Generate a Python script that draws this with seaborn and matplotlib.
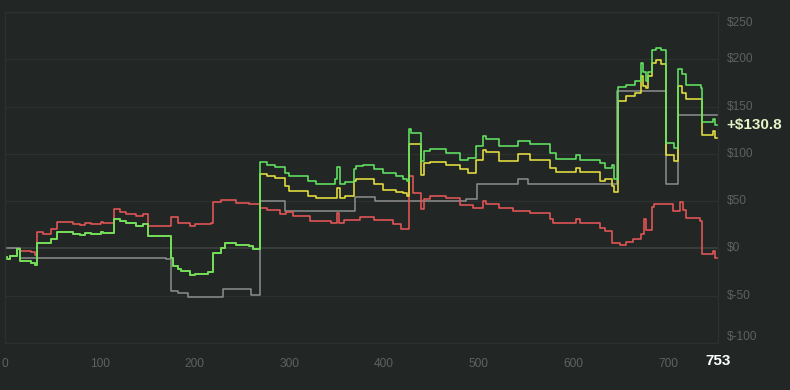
import pandas as pd
import matplotlib
matplotlib.use("Agg")
import matplotlib.pyplot as plt
import seaborn as sns

# breakpoints (hand #, $), drawn as steps
early = [(0, -9), (2, -11.6), (4.75, -8.5), (12, -1)]

green = early + [
    (16, -13), (27.6, -15), (31, -17.5), (34, 5.5), (48.8, 9.5), (55, 17.3),
    (71.6, 15.5), (78.7, 14.4), (84, 16.6), (91, 15.5), (101.6, 17.6), (103.3, 16),
    (115, 31), (121, 28.5), (128, 27), (138.5, 24), (145.5, 26), (151, 13),
    (175.5, -10), (177, -18.7), (182, -21.5), (186, -24), (194.8, -28.6), (200, -26.8),
    (214, -24.7), (219, -4.6), (228, 0.7), (231.7, 6), (244, 3.5), (258, 2.5),
    (262, -1), (269.5, 91.5), (276, 88.7), (284.7, 86.3), (295, 80), (300, 76.4),
    (320, 71), (328.7, 68.3), (348, 73), (350, 86), (354, 67.6), (358.7, 70),
    (368, 83.5), (371, 87), (378, 88.7), (390, 83.5), (399, 80), (413, 77),
    (420, 73), (424, 71), (426, 126.4), (429, 122), (439.6, 92), (442, 102.8),
    (448.4, 105), (466, 101), (480, 94), (489, 95.8), (497, 108.8), (505, 118.7),
    (508, 115.8), (522, 108), (541.7, 113.4), (554, 110), (575, 100.4), (582, 94.7),
    (603.4, 99), (607, 94), (628, 90.5), (634, 85.2), (641, 87.7), (643, 73.6),
    (647.5, 170.8), (656, 173), (665, 176.8), (672, 196), (674, 187), (677, 177),
    (679, 187), (683, 210), (688, 212), (693, 209.5), (698.4, 111), (707, 106),
    (710.7, 190), (715, 184), (719, 173), (735, 170), (736.4, 134), (748, 137),
    (750, 131), (753, 130.8),
]

yellow = early + [
    (16, -13), (27.6, -15), (31, -17.5), (34, 5.5), (48.8, 9.5), (55, 17.3),
    (71.6, 15.5), (78.7, 14.4), (84, 16.6), (91, 15.5), (101.6, 17.6), (103.3, 16),
    (115, 31), (121, 28.5), (128, 27), (138.5, 24), (145.5, 26), (151, 13),
    (175.5, -10), (177, -18.7), (182, -21.5), (186, -24), (194.8, -28.6), (200, -26.8),
    (214, -24.7), (219, -4.6), (228, 0.7), (231.7, 6), (244, 3.5), (258, 2.5),
    (262, -1), (269.5, 79), (276, 76.4), (284.7, 74), (295, 65.8), (300, 60.6),
    (320, 55.3), (328.7, 53.5), (350, 64), (354, 52.8), (358.7, 55.3), (368, 71),
    (371, 73.6), (390, 67.6), (399, 62.3), (413, 59.5), (420, 58.8), (424, 55.3),
    (426, 110), (439.6, 78), (442, 90.5), (448.4, 91), (466, 88.7), (480, 83.5),
    (489, 80), (497, 94), (505, 104.6), (508, 101.8), (522, 92), (541.7, 100),
    (554, 94), (575, 85.2), (582, 80.6), (603.4, 85.2), (607, 80.6), (628, 71),
    (634, 73), (641, 65.8), (643, 59.5), (647.5, 155.6), (656, 161), (665, 164.4),
    (672, 182.7), (674, 171.5), (677, 170), (679, 182), (683, 196), (688, 199),
    (693, 195.4), (698.4, 99.3), (707, 92.3), (710.7, 172), (715, 164.4), (719, 158.5),
    (736.4, 120.4), (748, 124), (750, 117), (753, 117),
]

red = early + [
    (16, -2.5), (27.6, -3.9), (31, -6.7), (34, 17), (40, 15.5), (48.8, 20.8),
    (55, 27.8), (71.6, 26), (78.7, 25), (84, 27), (91, 25.8), (101.6, 28),
    (103.3, 26.5), (115, 42), (121, 39), (128, 36.6), (138.5, 34), (145.5, 36),
    (151, 23.3), (174.8, 33), (182, 26.5), (194.8, 23.6), (200, 25.4), (217.7, 26.5),
    (219.5, 49), (228, 50.7), (244, 48.2), (258, 46.5), (269, 43), (276, 40.5),
    (290, 36.6), (297, 38.4), (304, 34), (322, 29), (344.6, 26.4), (350, 37),
    (352.5, 26.4), (358, 30), (374.4, 33), (390, 30), (410, 25.4), (418.6, 21),
    (426, 76.4), (430.8, 58.8), (439.6, 42), (442, 51.8), (448.4, 55.3), (466, 52.8),
    (480, 45.8), (494, 42.3), (505, 50), (508, 46.5), (522, 42.3), (536, 40),
    (554, 37.7), (575, 30.6), (578.7, 26.4), (603.4, 30.6), (607, 26.4), (628, 21.8),
    (634, 18.3), (641, 5.3), (649, 3.5), (656, 6.7), (663, 10.2), (672, 14.8),
    (675, 30.6), (677, 20), (683, 44), (685, 46.5), (705.5, 39.4), (712.5, 49),
    (716, 41), (719.5, 32.4), (733.6, 29), (736.4, -6.3), (748, -3), (750, -9.9),
    (753, -9.9),
]

gray = [
    (0, 0), (16, -9.9), (170, -11), (175.5, -45), (182.6, -47.5), (193, -51.4),
    (230, -43), (260, -49), (269.5, 49.7), (295, 40.1), (369, 54.2), (390.3, 50),
    (487, 52), (498, 68.4), (541.7, 73.6), (552.3, 68.4), (646.7, 166), (698.4, 68.4),
    (710.7, 141), (753, 141),
]

series = {"gray": gray, "red": red, "yellow": yellow, "green": green}
colors = {"gray": "#8a8a8a", "red": "#e85656", "yellow": "#e6e040", "green": "#62e462"}

y_ticks = [-100, -50, 0, 50, 100, 150, 200, 250]
x_ticks = [0, 100, 200, 300, 400, 500, 600, 700]
n_hands = 753
final_value = 130.8

rows = []
for name, pts in series.items():
    for x, y in pts:
        rows.append({"hand": x, "won": y, "line": name})
df = pd.DataFrame(rows)

bg = "#222725"
grid_c = "#2c312f"
text_c = "#5d6260"

sns.set_theme(style="dark")
plt.rcParams["font.family"] = ["Liberation Sans", "DejaVu Sans"]

fig = plt.figure(figsize=(7.9, 3.9), dpi=100, facecolor=bg)
ax = fig.add_axes([5.3 / 790, 1 - 343 / 390, (718 - 5.3) / 790, 331 / 390])
ax.set_facecolor(bg)

for yv in y_ticks:
    ax.axhline(yv, color="#3e4341" if yv == 0 else grid_c, lw=1.1 if yv == 0 else 1.0, zorder=0)

sns.lineplot(data=df, x="hand", y="won", hue="line", hue_order=list(series),
             palette=colors, drawstyle="steps-post", estimator=None, sort=False,
             lw=1.15, legend=False, ax=ax)

ax.set_xlim(0, n_hands)
ax.set_ylim(-100, 250)
for s in ax.spines.values():
    s.set_color(grid_c)
    s.set_linewidth(1.0)
ax.set_xlabel("")
ax.set_ylabel("")
ax.grid(False)

# x tick labels
ax.set_xticks(x_ticks + [n_hands])
ax.set_xticklabels([str(v) for v in x_ticks] + [str(n_hands)])
ax.tick_params(axis="x", length=0, pad=10.5, labelsize=8.6, labelcolor=text_c)
last = ax.get_xticklabels()[-1]
last.set_color("white")
last.set_fontweight("bold")
last.set_fontsize(11)
last.set_y(0.01)

# y tick labels on the right, drawn as text so the edge ones can sit inside
ax.set_yticks([])
trans = ax.get_yaxis_transform()
for yv in y_ticks:
    va = "center"
    yy = yv
    if yv == 250:
        va, yy = "top", 244.5
    elif yv == -100:
        va, yy = "bottom", -100.5
    ax.text(1.012, yy, f"${yv}", transform=trans, ha="left", va=va,
            fontsize=8.6, color=text_c, clip_on=False)

ax.text(1.012, final_value, f"+${final_value}", transform=trans, ha="left", va="center",
        fontsize=11, fontweight="bold", color="#e6f3c8", clip_on=False)

fig.savefig("out.png", dpi=100, facecolor=bg)
